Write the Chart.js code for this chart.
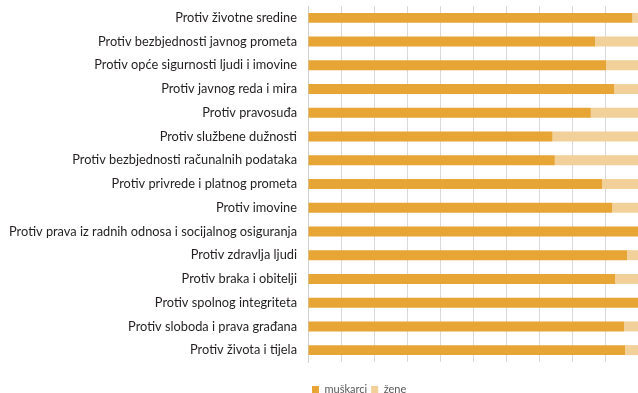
<!DOCTYPE html>
<html>
<head>
<meta charset="utf-8">
<script src="https://cdn.jsdelivr.net/npm/chart.js@4/dist/chart.umd.min.js"></script>
<style>
  html, body { margin: 0; padding: 0; background: #fff; }
  #wrap { width: 638px; height: 393px; position: relative; }
</style>
</head>
<body>
<div id="wrap"><canvas id="chart"></canvas></div>
<script>
const categories = [
    "Protiv životne sredine",
    "Protiv bezbjednosti javnog prometa",
    "Protiv opće sigurnosti ljudi i imovine",
    "Protiv javnog reda i mira",
    "Protiv pravosuđa",
    "Protiv službene dužnosti",
    "Protiv bezbjednosti računalnih podataka",
    "Protiv privrede i platnog prometa",
    "Protiv imovine",
    "Protiv prava iz radnih odnosa i socijalnog osiguranja",
    "Protiv zdravlja ljudi",
    "Protiv braka i obitelji",
    "Protiv spolnog integriteta",
    "Protiv sloboda i prava građana",
    "Protiv života i tijela"
]
// share in percent
const muskarci = [98.3, 87.0, 90.3, 92.8, 85.7, 74.1, 74.8, 89.1, 92.2, 100, 96.7, 93.1, 100, 95.8, 96.1]
const zene = [1.7, 13.0, 9.7, 7.2, 14.3, 25.9, 25.2, 10.9, 7.8, 0, 3.3, 6.9, 0, 4.2, 3.9]

const FONT = "Lato"

// put the legend under the bars, a bit left of centre
const legendShift = {
    id: "legendShift",
    afterLayout(chart) {
        const lg = chart.legend
        const h = lg.bottom - lg.top
        lg.left = 308
        lg.right = 638
        lg.top = 380
        lg.bottom = lg.top + h
    }
}

const ctx = document.getElementById("chart").getContext("2d")
const chart = new Chart(ctx, {
    type: "bar",
    data: {
        labels: categories,
        datasets: [
            {
                label: "muškarci",
                data: muskarci,
                backgroundColor: "#E6A535",
                borderWidth: 0,
                barPercentage: 0.42,
                categoryPercentage: 1
            },
            {
                label: "žene",
                data: zene,
                backgroundColor: "#F1D099",
                borderWidth: 0,
                barPercentage: 0.42,
                categoryPercentage: 1
            }
        ]
    },
    options: {
        indexAxis: "y",
        responsive: true,
        maintainAspectRatio: false,
        animation: false,
        layout: { padding: { left: 0, right: 0, top: 6, bottom: 6 } },
        scales: {
            x: {
                stacked: true,
                min: 0,
                max: 100,
                ticks: { display: false, stepSize: 10 },
                grid: { color: "#d9d9d9", lineWidth: 1, drawTicks: false },
                border: { display: false }
            },
            y: {
                stacked: true,
                afterFit(scale) {
                    scale.width = 308
                    scale.paddingTop = 0
                    scale.paddingBottom = 0
                },
                ticks: {
                    color: "#231f20",
                    padding: 11,
                    font: { family: FONT, size: 12.8 }
                },
                grid: { display: false, drawTicks: false },
                border: { display: true, color: "#d0d0d0" }
            }
        },
        plugins: {
            legend: {
                position: "bottom",
                align: "start",
                labels: {
                    boxWidth: 7,
                    boxHeight: 7,
                    padding: 4,
                    color: "#595959",
                    font: { family: FONT, size: 11 }
                }
            },
            tooltip: { enabled: false }
        }
    },
    plugins: [legendShift]
})
</script>
</body>
</html>
